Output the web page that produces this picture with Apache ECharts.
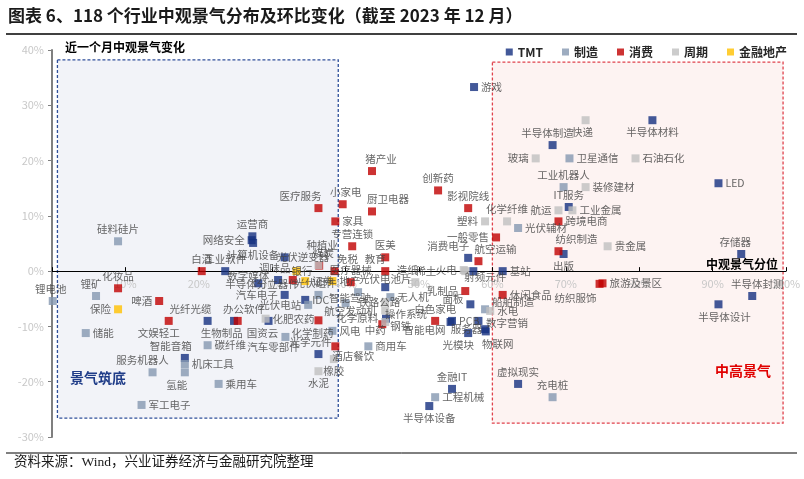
<!DOCTYPE html>
<html><head><meta charset="utf-8">
<script src="https://cdn.jsdelivr.net/npm/echarts@6/dist/echarts.min.js"></script>
<style>html,body{margin:0;padding:0;background:#fff;}#c{width:804px;height:479px;}</style>
</head><body><div id="c"></div>
<script>
// ---- data (x: 中观景气分位 %, y: 近一个月中观景气变化 %) ----
const categories = ['TMT', '制造', '消费', '周期', '金融地产'];
const xTicks = [0, 10, 20, 30, 40, 50, 60, 70, 80, 90, 100];
const yTicks = [-30, -20, -10, 0, 10, 20, 30, 40];

const tmtNames = ['游戏','半导体制造','半导体材料','IT服务','出版','LED','存储器','半导体设计','半导体封测','虚拟现实','金融IT','半导体设备','光模块','服务器','PCB','数字营销','物联网','面板','消费电子','基站','运营商','网络安全','计算机设备','工业软件','数字媒体','半导体分立器件','汽车电子','IDC','光纤光缆','国资云','办公软件','智能音箱','光学元件','光伏电池片','光伏逆变器','操作系统','智能电网','射频元件'];
const tmtPoints = [[57.5,33.3],[68.2,22.8],[81.8,27.3],[70.4,11.6],[69.7,3.1],[90.8,15.9],[93.9,3.1],[90.8,-6.0],[95.4,-4.5],[63.5,-20.4],[54.5,-21.3],[51.4,-24.4],[56.7,-11.2],[58.1,-9.0],[54.5,-9.0],[59.0,-10.5],[59.1,-10.9],[57.0,-6.0],[56.7,2.4],[61.4,0.0],[27.3,6.3],[27.2,5.6],[27.4,5.1],[23.6,0.0],[28.1,-2.2],[30.8,-1.6],[31.7,-4.3],[34.5,-5.2],[21.2,-9.0],[29.5,-9.0],[24.8,-9.0],[18.1,-15.7],[36.3,-15.0],[45.4,-2.9],[31.7,2.5],[45.5,-8.6],[54.3,-9.2],[57.4,0.0]];

const mfgNames = ['锂电池','锂矿','硅料硅片','储能','碳纤维','服务机器人','机床工具','氢能','乘用车','军工电子','光伏组件','光伏电站','汽车零部件','风电','航空发动机','智能驾驶','无人机','商用车','工程机械','充电桩','光伏辅材','工业机器人','卫星通信','船舶制造'];
const mfgPoints = [[0.1,-5.4],[6.0,-4.5],[9.0,5.4],[4.6,-11.2],[21.2,-13.4],[13.7,-18.3],[18.1,-16.8],[18.1,-18.3],[22.7,-20.4],[12.2,-24.2],[36.3,-4.3],[34.9,-6.1],[31.8,-11.9],[38.2,-10.8],[40.0,-5.8],[41.7,-3.8],[46.1,-4.7],[43.1,-13.6],[52.2,-22.8],[68.2,-22.8],[63.5,7.8],[69.7,15.2],[70.5,20.4],[59.0,-6.9]];

const conNames = ['化妆品','啤酒','文娱轻工','生物制品','白酒','调味品','医疗服务','小家电','家具','猪产业','厨卫电器','专营连锁','免税','医疗器械','医美','教育','创新药','影视院线','一般零售','航空运输','休闲食品','乳制品','白色家电','化学制药','酒店餐饮','中药','纺织制造','跨境电商','旅游及景区','纺织服饰','种植业'];
const conPoints = [[9.0,-3.1],[14.6,-5.4],[15.9,-9.0],[25.3,-9.0],[20.4,0.0],[32.8,-1.6],[36.3,11.4],[39.6,12.1],[38.6,9.0],[43.6,18.1],[43.6,10.8],[40.9,4.5],[38.5,0.0],[40.7,-2.0],[45.4,2.5],[45.4,0.0],[52.6,14.6],[56.7,11.4],[60.5,6.1],[58.1,1.8],[61.4,-4.3],[56.3,-3.6],[52.2,-9.0],[36.3,-8.9],[38.6,-13.6],[45.0,-9.6],[69.0,3.6],[69.0,9.0],[75.0,-2.2],[74.6,-2.3],[36.4,1.0]];

const cycNames = ['快递','石油石化','玻璃','装修建材','航运','工业金属','贵金属','塑料','化学纤维','稀土','火电','水电','造纸','钢铁','化学原料','化肥农药','煤炭','橡胶','水泥','铁路公路'];
const cycPoints = [[72.7,27.3],[79.5,20.4],[65.9,20.4],[72.7,15.2],[69.0,11.0],[70.9,11.0],[75.7,4.5],[59.0,9.0],[62.0,9.0],[56.3,0.0],[56.1,0.2],[59.7,-7.2],[49.5,-2.0],[45.4,-9.2],[45.4,-7.1],[29.1,-8.6],[36.3,1.1],[38.4,-15.9],[36.3,-18.1],[45.4,-5.6]];

const finNames = ['保险','银行','证券','地产'];
const finPoints = [[9.0,-6.9],[33.3,0.0],[34.5,-1.8],[38.2,-1.8]];

// ---- layout / style (not data) ----
const colors = ['#14307f', '#8497b0', '#c00000', '#bfbfbf', '#ffc000'];
const labelPlace = {
  '游戏':['right'],'半导体制造':['top',-5,0],'半导体材料':['bottom'],'IT服务':['top'],'出版':['bottom'],'LED':['right'],
  '存储器':['top',-6,0],'半导体设计':['bottom',6,0],'半导体封测':['top',5,0],'虚拟现实':['top'],'金融IT':['top'],
  '半导体设备':['bottom'],'光模块':['bottom',-10,0],'服务器':['bottom',-12,-4],'PCB':['right'],'数字营销':['right',-6,-6],
  '物联网':['bottom',12,0],'面板':['left',0,-5],'消费电子':['top',-20,0],'基站':['right'],'运营商':['top'],'网络安全':['left'],
  '计算机设备':['bottom'],'工业软件':['top'],'数字媒体':['top',-10,5],'半导体分立器件':['bottom',-16,-8],'汽车电子':['left'],
  'IDC':['right'],'光纤光缆':['top',-17,0],'国资云':['bottom',-6,0],'办公软件':['top',10,0],'智能音箱':['top',-14,0],
  '光学元件':['top',-8,0],'光伏电池片':['top',0,4],'光伏逆变器':['right',-15,0],'操作系统':['right',-8,-5],'智能电网':['bottom',-26,-4],
  '射频元件':['bottom',12,-6],
  '锂电池':['top',-2,0],'锂矿':['top',-5,0],'硅料硅片':['top'],'储能':['right'],'碳纤维':['right'],'服务机器人':['top',-10,0],
  '机床工具':['right'],'氢能':['bottom',-8,0],'乘用车':['right'],'军工电子':['right'],'光伏组件':['top',-3,0],'光伏电站':['left'],
  '汽车零部件':['bottom',-12,-2],'风电':['right'],'航空发动机':['bottom',5,-4],'智能驾驶':['bottom',-8,-6],'无人机':['right'],
  '商用车':['right'],'工程机械':['right'],'充电桩':['top'],'光伏辅材':['right'],'工业机器人':['top'],'卫星通信':['right'],'船舶制造':['right',0,-7],
  '化妆品':['top'],'啤酒':['left'],'文娱轻工':['bottom',-10,0],'生物制品':['bottom',-16,0],'白酒':['top'],'调味品':['top',-18,0],
  '医疗服务':['top',-18,0],'小家电':['top',3,0],'家具':['right'],'猪产业':['top',9,0],'厨卫电器':['top',16,0],'专营连锁':['top'],
  '免税':['top',13,0],'医疗器械':['top'],'医美':['top'],'教育':['top',-10,0],'创新药':['top'],'影视院线':['top'],'一般零售':['left'],
  '航空运输':['top',17,0],'休闲食品':['right'],'乳制品':['left'],'白色家电':['top'],'化学制药':['bottom',-6,0],'酒店餐饮':['bottom',18,-3],
  '中药':['bottom',-7,-6],'纺织制造':['top',18,0],'跨境电商':['right'],'旅游及景区':['right'],'纺织服饰':['bottom',-24,2],'种植业':['top',3,-8],
  '快递':['bottom',-3,0],'石油石化':['right'],'玻璃':['left'],'装修建材':['right'],'航运':['left'],'工业金属':['right'],'贵金属':['right'],
  '塑料':['left'],'化学纤维':['top'],'稀土':['left',-22,0],'火电':['left'],'水电':['right'],'造纸':['top',-8,0],'钢铁':['right',-2,4],
  '化学原料':['left',0,8],'化肥农药':['right'],'煤炭':['top',5,0],'橡胶':['bottom'],'水泥':['bottom'],'铁路公路':['left',22,0],
  '保险':['left'],'银行':['right',-12,0],'证券':['right'],'地产':['right']
};

const SYM = 8, GAP = 3;
function labelCfg(p) {
  const dx = p[1] || 0, dy = p[2] || 0, c = SYM / 2;
  switch (p[0]) {
    case 'top':    return {position:[c+dx, -GAP+dy], align:'center', verticalAlign:'bottom'};
    case 'bottom': return {position:[c+dx, SYM+GAP+dy], align:'center', verticalAlign:'top'};
    case 'left':   return {position:[-GAP+dx, c+dy], align:'right', verticalAlign:'middle'};
    default:       return {position:[SYM+GAP+dx, c+dy], align:'left', verticalAlign:'middle'};
  }
}

const groups = [[tmtNames,tmtPoints],[mfgNames,mfgPoints],[conNames,conPoints],[cycNames,cycPoints],[finNames,finPoints]];

const W = 804, H = 479;
const gridTop = 50, gridBottom = 42;
const yMin = yTicks[0], yMax = yTicks[yTicks.length - 1];
const gridH = H - gridTop - gridBottom;
const xAxisOffset = -((0 - yMin) / (yMax - yMin)) * gridH;

const chart = echarts.init(document.getElementById('c'), null, {renderer:'canvas'});
const FONT = '"Noto Sans CJK SC","Microsoft YaHei",sans-serif';

const series = [{
  type:'scatter', name:'_box', data:[], z:0, silent:true,
  markArea:{ silent:true, data:[
    [{coord:[0.74,38.2], itemStyle:{color:'#f2f3f8', borderColor:'#2f4f9a', borderWidth:1.3, borderType:[3,2]}},{coord:[39.0,-26.6]}],
    [{coord:[60.0,37.8], itemStyle:{color:'#fdf3f2', borderColor:'#e0424c', borderWidth:1.3, borderType:[3,2]}},{coord:[99.6,-27.5]}]
  ]}
}];
groups.forEach(([names, pts], i) => {
  series.push({
    type:'scatter', name:categories[i], symbol:'rect', symbolSize:SYM, z:2,
    itemStyle:{color:colors[i]},
    label:{show:true, formatter:'{b}', color:'#404040', fontSize:10.5, fontFamily:FONT},
    labelLayout:{hideOverlap:false},
    data: names.map((n, j) => ({name:n, value:pts[j], label:labelCfg(labelPlace[n] || ['right'])}))
  });
});

chart.setOption({
  animation:false,
  backgroundColor:'#fff',
  grid:{left:52, right:18, top:gridTop, bottom:gridBottom, containLabel:false},
  legend:{
    data:categories, right:12, top:41, icon:'rect', itemWidth:7, itemHeight:7, itemGap:19,
    textStyle:{fontFamily:FONT, fontWeight:'bold', fontSize:12, color:'#262626'}
  },
  xAxis:{
    type:'value', min:xTicks[0], max:xTicks[xTicks.length-1], interval:10, z:1,
    position:'bottom', offset:xAxisOffset,
    axisLine:{onZero:false, lineStyle:{color:'#000', width:1}},
    axisTick:{show:true, inside:true, length:4, lineStyle:{color:'#000'}},
    axisLabel:{color:'#c8c8c8', fontSize:11, fontFamily:FONT, margin:7,
      formatter:v => v === 0 ? '' : v + '%'},
    splitLine:{show:false}
  },
  yAxis:{
    type:'value', min:yMin, max:yMax, interval:10, z:1,
    axisLine:{show:true, onZero:false, lineStyle:{color:'#7f7f7f', width:2}},
    axisTick:{show:true, length:4, lineStyle:{color:'#7f7f7f'}},
    axisLabel:{color:'#c8c8c8', fontSize:11, fontFamily:FONT, margin:8, formatter:'{value}%'},
    splitLine:{show:false}
  },
  graphic:[
    {type:'text', left:8, top:7, style:{text:'图表 6、118 个行业中观景气分布及环比变化（截至 2023 年 12 月）', font:'bold 17px '+FONT, fill:'#1a1a1a'}},
    {type:'line', shape:{x1:6, y1:34, x2:797, y2:34}, style:{stroke:'#000', lineWidth:1.5}},
    {type:'line', shape:{x1:6, y1:453, x2:797, y2:453}, style:{stroke:'#000', lineWidth:1}},
    {type:'text', left:14, top:456, style:{text:'资料来源：Wind，兴业证券经济与金融研究院整理', font:'13.5px "Liberation Serif","Noto Sans CJK SC",serif', fill:'#1a1a1a'}},
    {type:'text', left:65, top:41, z:10, style:{text:'近一个月中观景气变化', font:'bold 12px '+FONT, fill:'#000'}},
    {type:'text', left:70, top:371, z:10, style:{text:'景气筑底', font:'bold 14px '+FONT, fill:'#1f3c88'}},
    {type:'text', left:715, top:364, z:10, style:{text:'中高景气', font:'bold 14px '+FONT, fill:'#e00000'}},
    {type:'text', left:706, top:258, z:10, style:{text:'中观景气分位', font:'bold 12px '+FONT, fill:'#000'}}
  ],
  series:series
});
</script></body></html>
